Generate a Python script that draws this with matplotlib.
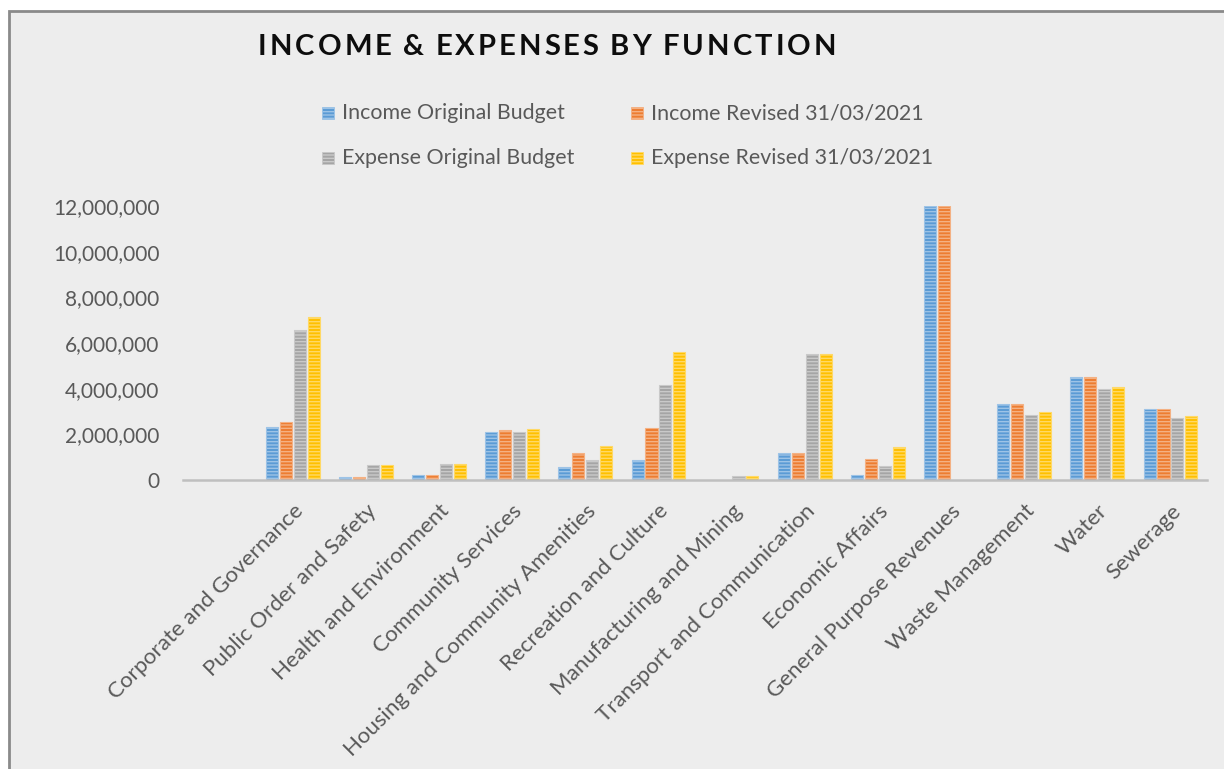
import numpy as np
import matplotlib
matplotlib.use("Agg")
import matplotlib.pyplot as plt
from matplotlib.patches import Rectangle
from matplotlib.ticker import FuncFormatter

categories = ["", "Corporate and Governance", "Public Order and Safety", "Health and Environment",
              "Community Services", "Housing and Community Amenities", "Recreation and Culture",
              "Manufacturing and Mining", "Transport and Communication", "Economic Affairs",
              "General Purpose Revenues", "Waste Management", "Water", "Sewerage"]
nan = np.nan
income_original = [nan, 2330000, 140000, 200000, 2110000, 560000, 890000, nan, 1170000, 220000, 12000000, 3320000, 4500000, 3100000]
income_revised = [nan, 2560000, 140000, 200000, 2170000, 1170000, 2290000, nan, 1170000, 900000, 12000000, 3320000, 4500000, 3100000]
expense_original = [nan, 6580000, 650000, 710000, 2110000, 890000, 4150000, 160000, 5500000, 610000, nan, 2850000, 3990000, 2700000]
expense_revised = [nan, 7150000, 650000, 710000, 2230000, 1500000, 5590000, 160000, 5500000, 1450000, nan, 2980000, 4090000, 2800000]
series_names = ["Income Original Budget", "Income Revised 31/03/2021",
                "Expense Original Budget", "Expense Revised 31/03/2021"]
title_text = "INCOME & EXPENSES BY FUNCTION"
yticks = [0, 2000000, 4000000, 6000000, 8000000, 10000000, 12000000]

colors = ["#5B9BD5", "#ED7D31", "#A5A5A5", "#FFC000"]

def lighten(c, f):
    r, g, b = matplotlib.colors.to_rgb(c)
    return (r + (1 - r) * f, g + (1 - g) * f, b + (1 - b) * f)

plt.rcParams['font.family'] = ['Lato', 'DejaVu Sans']
plt.rcParams['hatch.linewidth'] = 1.0

W, H = 1224, 769
fig = plt.figure(figsize=(W / 100, H / 100), dpi=100)
fig.patch.set_facecolor("white")
bg = Rectangle((9 / W, -0.01), 1.02, 1 - 11 / H + 0.01, transform=fig.transFigure,
               facecolor="#EDEDED", edgecolor="#8A8A8A", linewidth=2, zorder=-10)
fig.patches.append(bg)

ax = fig.add_axes([183 / W, 1 - 480 / H, (1207 - 183) / W, (480 - 206) / H])
ax.set_facecolor("none")

series = [income_original, income_revised, expense_original, expense_revised]
x = np.arange(len(categories))
step = 0.19
width = 0.165
for i, (vals, col) in enumerate(zip(series, colors)):
    ax.bar(x + (i - 1.5) * step, vals, width, color=col,
           edgecolor=lighten(col, 0.4), linewidth=0.8, hatch="-----", zorder=3)

ax.set_xlim(-0.5, len(categories) - 0.5)
ax.set_ylim(0, 12000000)
ax.set_yticks(yticks)
ax.yaxis.set_major_formatter(FuncFormatter(lambda v, p: f"{int(v):,}"))
ax.set_xticks(x)
ax.set_xticklabels(categories, rotation=45, ha="right", rotation_mode="anchor")
for s in ["top", "right", "left"]:
    ax.spines[s].set_visible(False)
ax.spines["bottom"].set_color("#BFBFBF")
ax.spines["bottom"].set_linewidth(1.8)
ax.spines["bottom"].set_zorder(4)
ax.tick_params(axis="both", length=0, colors="#595959")
ax.tick_params(axis="y", pad=17, labelsize=15)
ax.tick_params(axis="x", pad=15, labelsize=16)

# legend (manual layout matching the reference)
leg_pos = [(322, 113), (631, 113), (322, 158), (631, 158)]
for (lx, ly), name, col in zip(leg_pos, series_names, colors):
    fig.patches.append(Rectangle((lx / W, 1 - (ly + 6) / H), 12 / W, 12 / H,
                                 transform=fig.transFigure, facecolor=col,
                                 edgecolor=lighten(col, 0.4), linewidth=0.6, hatch="-----"))
    fig.text((lx + 20) / W, 1 - ly / H, name, fontsize=15.4, color="#595959", va="center", ha="left")

# letter-spaced title
renderer = fig.canvas.get_renderer()
fs = 21
tx0, tx1, ty = 258, 836, 47
widths = []
for ch in title_text:
    t = fig.text(0, 0, ch if ch != " " else "I", fontsize=fs, fontweight="bold", color="#0D0D0D")
    bb = t.get_window_extent(renderer)
    t.remove()
    widths.append(bb.width if ch != " " else bb.width * 0.6)
n = len(title_text)
gap = ((tx1 - tx0) - sum(widths)) / (n - 1)
cx = tx0
for ch, w in zip(title_text, widths):
    if ch != " ":
        fig.text(cx / W, 1 - ty / H, ch, fontsize=fs, fontweight="bold", color="#0D0D0D",
                 va="center", ha="left")
    cx += w + gap

fig.savefig("out.png", dpi=100, facecolor=fig.get_facecolor())
